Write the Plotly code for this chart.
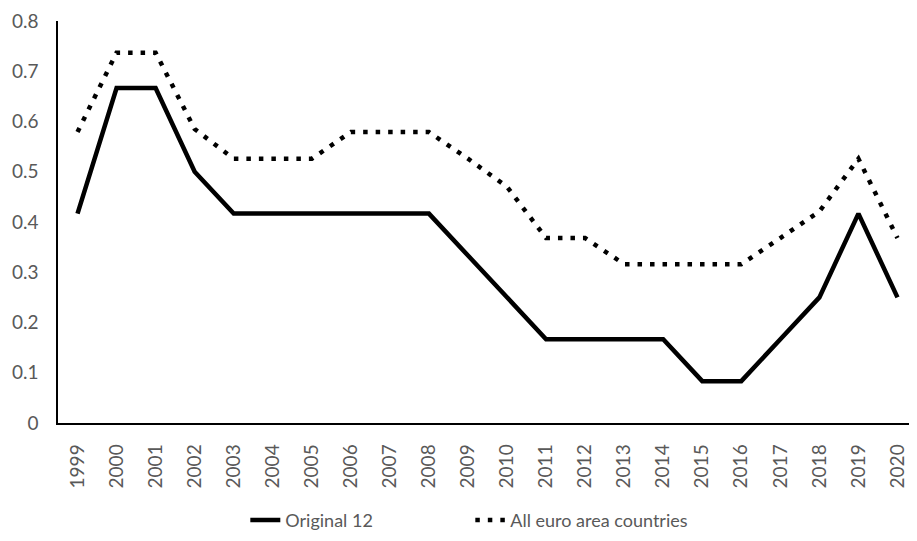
import plotly.graph_objects as go

years = [str(y) for y in range(1999, 2021)]
original_12 = [0.4167, 0.6667, 0.6667, 0.5, 0.4167, 0.4167, 0.4167, 0.4167, 0.4167, 0.4167,
               0.3333, 0.25, 0.1667, 0.1667, 0.1667, 0.1667, 0.0833, 0.0833, 0.1667, 0.25,
               0.4167, 0.25]
all_euro = [0.579, 0.737, 0.737, 0.585, 0.526, 0.526, 0.526, 0.579, 0.579, 0.579,
            0.526, 0.47, 0.368, 0.368, 0.316, 0.316, 0.316, 0.316, 0.368, 0.421,
            0.526, 0.368]

fig = go.Figure()
fig.add_trace(go.Scatter(x=years, y=original_12, mode="lines", name="Original 12",
                         line=dict(color="black", width=4.5)))
fig.add_trace(go.Scatter(x=years, y=all_euro, mode="lines", name="All euro area countries",
                         line=dict(color="black", width=4.5, dash="4.5px,8px")))

FAM = "Lato, Open Sans, Liberation Sans, sans-serif"
font = dict(family=FAM, size=19, color="#595959")
# page body has an 8px margin, so the figure is sized/offset to compensate
fig.update_layout(
    width=909, height=533,
    margin=dict(l=50, r=0, t=13, b=118),
    plot_bgcolor="white", paper_bgcolor="white",
    font=font,
    showlegend=True,
    legend=dict(orientation="h", x=0.48, xanchor="center", y=-0.288, yanchor="bottom",
                entrywidth=180, font=dict(family=FAM, size=18, color="#595959")),
    xaxis=dict(type="category", range=[-0.5, 21.5], showgrid=False, showline=True,
               linecolor="black", linewidth=1.5, tickangle=-90, ticks="",
               ticklabelstandoff=12, tickfont=font, automargin=False),
    yaxis=dict(range=[0, 0.8], showgrid=False, showline=True, linecolor="black",
               linewidth=1.5, ticks="", tickfont=font, zeroline=False,
               ticklabelstandoff=14, automargin=False,
               tickvals=[0, 0.1, 0.2, 0.3, 0.4, 0.5, 0.6, 0.7, 0.8],
               ticktext=["0", "0.1", "0.2", "0.3", "0.4", "0.5", "0.6", "0.7", "0.8"]),
)
fig.write_html("out.html")
